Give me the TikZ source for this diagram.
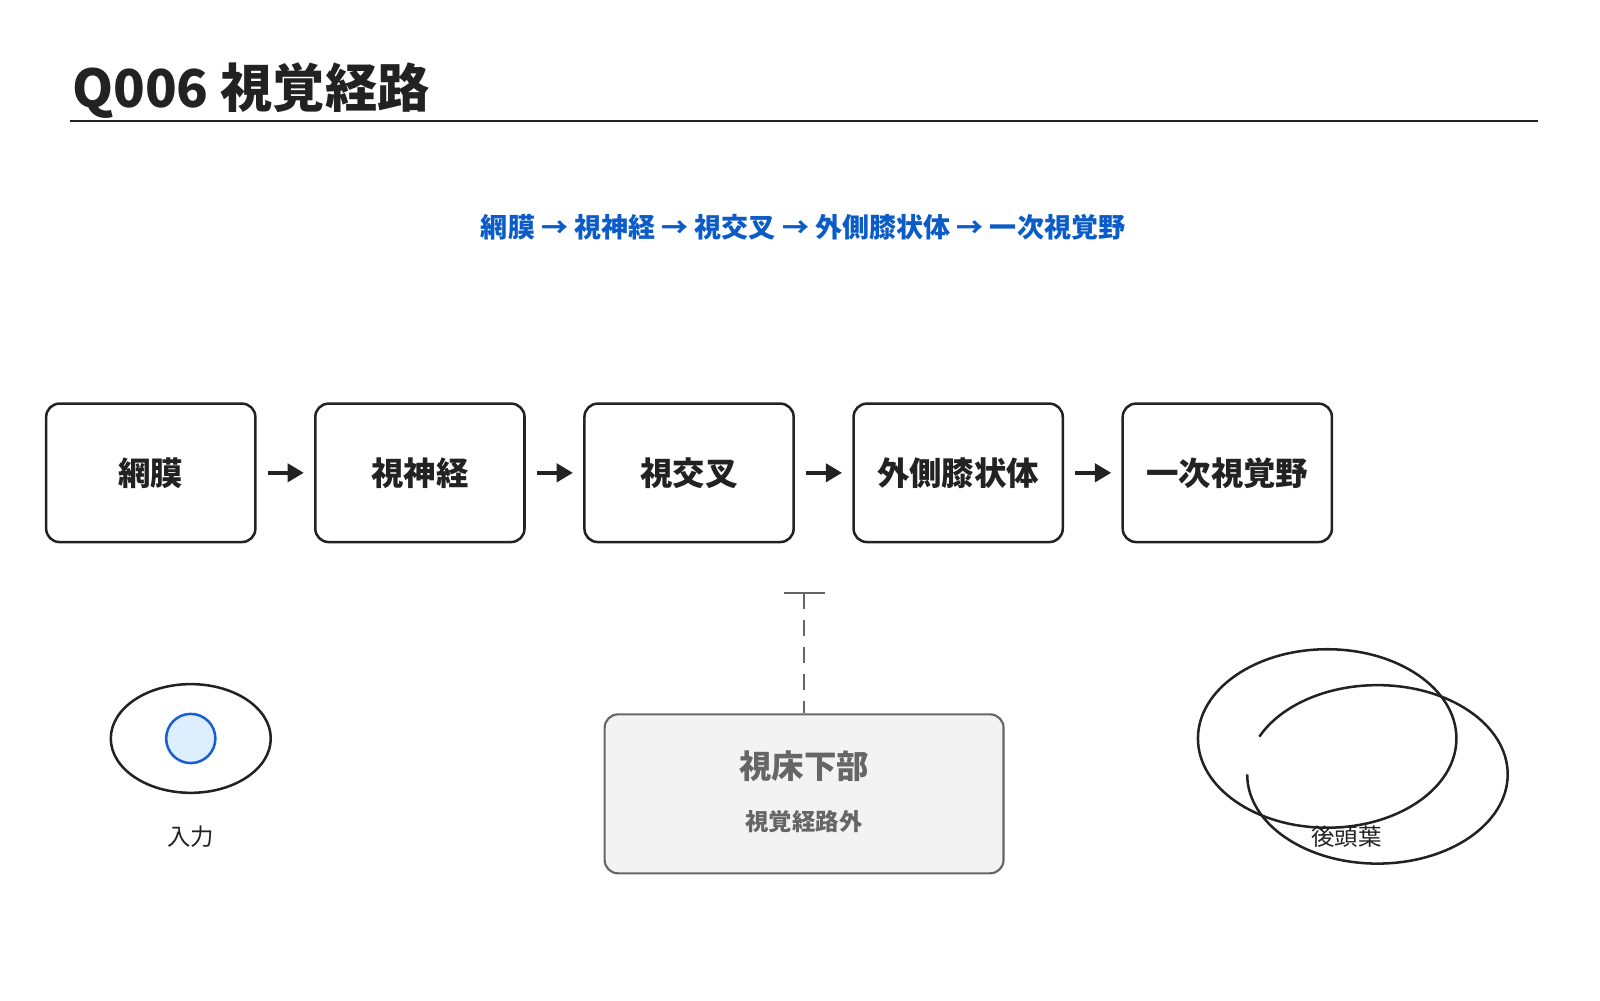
\documentclass[tikz,border=0pt]{standalone}
\usepackage{fontspec}
\setmainfont{Noto Sans CJK JP}
\usetikzlibrary{positioning}
\usetikzlibrary{arrows.meta}
\usetikzlibrary{shapes.geometric}
\definecolor{ink}{HTML}{222222}
\definecolor{linkblue}{HTML}{0B5CC8}
\definecolor{boxgray}{HTML}{F3F3F3}
\definecolor{edgegray}{HTML}{666666}
\definecolor{irisblue}{HTML}{DDEEFF}
\definecolor{irisedge}{HTML}{1A5FD0}
\tikzset{
  stage/.style={
    draw=ink,
    rectangle,
    rounded corners=2.6mm,
    minimum width=4.08cm,
    minimum height=2.7cm,
    line width=1.4pt,
    node font=\bfseries\fontsize{18}{20}\selectfont,
    text=ink,
  },
  flow/.style={
    draw=ink,
    -{Triangle[length=9pt,width=10pt]},
    line width=2.2pt,
    shorten <=0.22cm,
    shorten >=0.2cm,
  },
  aside/.style={
    draw=edgegray,
    fill=boxgray,
    rectangle,
    rounded corners=2.6mm,
    minimum width=7.78cm,
    minimum height=3.1cm,
    line width=1.2pt,
  },
  caption/.style={
    text=ink,
    node font=\fontsize{13}{15}\selectfont,
  },
}
\begin{document}
\begin{tikzpicture}[x=0.02cm,y=-0.02cm]
  \useasboundingbox (0,0) rectangle (1560,975);

  \node (title) [anchor=base west,text=ink,font=\bfseries\fontsize{29}{32}\selectfont,inner sep=0] at (70,105) {Q006 視覚経路};
  \coordinate (rule start) at (68,118);
  \coordinate (rule end) at (1500,118);
  \draw [ink,line width=1.3pt] (rule start) -- (rule end);

  \node (summary) [text=linkblue,font=\bfseries\fontsize{15}{17}\selectfont] at (783,222) {網膜 → 視神経 → 視交叉 → 外側膝状体 → 一次視覚野};

  \node (retina)   [stage] at (147,461) {網膜};
  \node (nerve)    [stage,right=1.12cm of retina] {視神経};
  \node (chiasm)   [stage,right=1.12cm of nerve] {視交叉};
  \node (lgn)      [stage,right=1.12cm of chiasm] {外側膝状体};
  \node (cortex)   [stage,right=1.12cm of lgn] {一次視覚野};

  \path [flow] (retina) -- (nerve);
  \path [flow] (nerve) -- (chiasm);
  \path [flow] (chiasm) -- (lgn);
  \path [flow] (lgn) -- (cortex);

  \node (hypo) [aside] at (784,774) {};
  \node (hypo title) [text=edgegray,font=\bfseries\fontsize{18}{20}\selectfont] at (784,747) {視床下部};
  \node (hypo note) [text=edgegray,font=\bfseries\fontsize{13}{15}\selectfont] at (784,801) {視覚経路外};
  \coordinate (tee) at (784,578);
  \draw [edgegray,line width=1.2pt,dash pattern=on 9pt off 6pt] (tee) -- (hypo.north);
  \draw [edgegray,line width=1.2pt] (764,578) -- (804,578);

  % eye
  \node (eye) [draw=ink,ellipse,line width=1.4pt,minimum width=3.12cm,minimum height=2.12cm,inner sep=0] at (186,720) {};
  \node (iris) [draw=irisedge,fill=irisblue,circle,line width=1.4pt,minimum size=0.96cm,inner sep=0] at (eye.center) {};
  \node (eye label) [caption] at (186,816) {入力};

  % occipital lobe
  \draw [ink,line width=1.4pt] (1294,720) ellipse [x radius=126,y radius=87];
  \draw [ink,line width=1.4pt] (1216,755) arc [start angle=180,end angle=-155,x radius=127,y radius=87];
  \node (lobe label) [caption] at (1313,816) {後頭葉};
\end{tikzpicture}
\end{document}
